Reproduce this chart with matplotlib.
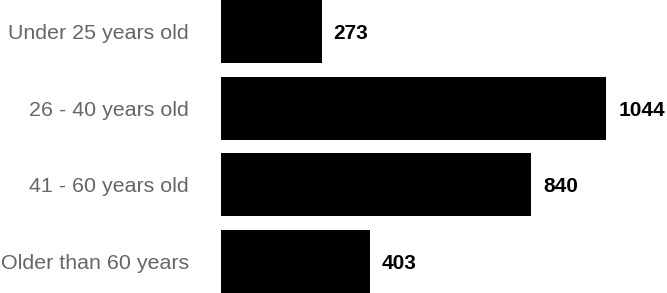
import matplotlib
matplotlib.use("Agg")
import matplotlib.pyplot as plt

# age groups and respondent counts
categories = ["Under 25 years old", "26 - 40 years old", "41 - 60 years old", "Older than 60 years"]
counts = [273, 1044, 840, 403]

plt.rcParams['font.family'] = ['Liberation Sans', 'DejaVu Sans']

fig = plt.figure(figsize=(6.67, 2.93), dpi=100)
ax = fig.add_axes([221 / 667, 0, 446 / 667, 1])

pos = list(range(len(categories)))
bar_h = 0.83
ax.barh(pos, counts, height=bar_h, color="black")
ax.set_ylim(len(categories) - 1 + bar_h / 2, -bar_h / 2)
ax.set_xlim(0, 1209)

ax.set_yticks(pos)
ax.set_yticklabels(categories, fontsize=15.4, color="#666666")
ax.tick_params(axis="y", length=0, pad=23)
ax.set_xticks([])
for s in ax.spines.values():
    s.set_visible(False)

# value labels to the right of each bar
for p, v in zip(pos, counts):
    ax.annotate(str(v), (v, p), xytext=(12, -2), textcoords="offset pixels",
                va="center", ha="left", fontsize=15, fontweight="bold", color="black")

fig.savefig("out.png", dpi=100)
